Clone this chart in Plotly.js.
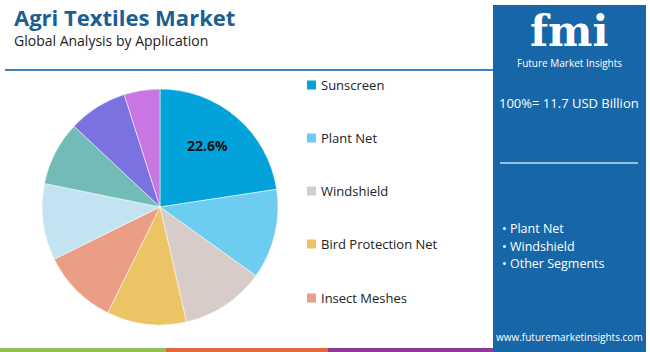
<!DOCTYPE html>
<html>
<head>
<meta charset="utf-8">
<script src="https://cdn.plot.ly/plotly-3.0.1.min.js"></script>
<style>html,body{margin:0;padding:0;background:#fff;}#chart{width:650px;height:352px;}</style>
</head>
<body>
<div id="chart"></div>
<script>
// ---- data ----
const categories = ["Sunscreen", "Plant Net", "Windshield", "Bird Protection Net", "Insect Meshes",
                    "Shade Net", "Mulch Mat", "Anti-Hail Net", "Others"];
const shares = [22.6, 12.3, 11.5, 10.9, 10.4, 10.5, 8.8, 8.1, 4.9];
const sliceColors = ["#02A2DB", "#6CCDF0", "#D7CCC8", "#EBC466", "#EB9E86",
                     "#C3E3F2", "#72BCB7", "#7A72E1", "#C877E2"];
const legendCount = 5;
const labelledSlices = ["Sunscreen"];
const titleText = "Agri Textiles Market";
const subtitleText = "Global Analysis by Application";
const totalText = "100%= 11.7 USD Billion";
const keySegments = ["Plant Net", "Windshield", "Other Segments"];
const siteText = "www.futuremarketinsights.com";

// ---- helpers (pixel -> paper) ----
const W = 650, H = 352;
const px = x => x / W;
const py = y => 1 - y / H;

const shapes = [];
const annotations = [];

// header
annotations.push({xref:'paper', yref:'paper', x:px(12), y:py(17), xanchor:'left', yanchor:'middle',
  text:'<b>' + titleText + '</b>', showarrow:false,
  font:{family:'Open Sans, sans-serif', size:22, color:'#1B5E96'}});
annotations.push({xref:'paper', yref:'paper', x:px(12), y:py(41), xanchor:'left', yanchor:'middle',
  text:subtitleText, showarrow:false,
  font:{family:'Open Sans, sans-serif', size:14, color:'#222'}});
shapes.push({type:'line', xref:'paper', yref:'paper', x0:px(5), x1:px(493), y0:py(70), y1:py(70),
  line:{color:'#3C82BC', width:2}});

// bottom strip
shapes.push({type:'rect', xref:'paper', yref:'paper', x0:0, x1:px(166), y0:0, y1:py(348), fillcolor:'#8DC153', line:{width:0}});
shapes.push({type:'rect', xref:'paper', yref:'paper', x0:px(166), x1:px(328), y0:0, y1:py(348), fillcolor:'#E2683A', line:{width:0}});
shapes.push({type:'rect', xref:'paper', yref:'paper', x0:px(328), x1:px(493), y0:0, y1:py(348), fillcolor:'#8E3A96', line:{width:0}});

// right panel
shapes.push({type:'rect', xref:'paper', yref:'paper', x0:px(493), x1:px(646), y0:0, y1:py(5),
  fillcolor:'#1766A7', line:{width:0}, layer:'below'});
annotations.push({xref:'paper', yref:'paper', x:px(569), y:py(31), xanchor:'center', yanchor:'middle',
  text:'<b>fmi</b>', showarrow:false,
  font:{family:'DejaVu Serif, serif', size:42, color:'#ffffff'}});
annotations.push({xref:'paper', yref:'paper', x:px(569), y:py(63), xanchor:'center', yanchor:'middle',
  text:'Future Market Insights', showarrow:false,
  font:{family:'Open Sans, sans-serif', size:10, color:'#ffffff'}});
annotations.push({xref:'paper', yref:'paper', x:px(569), y:py(103), xanchor:'center', yanchor:'middle',
  text:totalText, showarrow:false,
  font:{family:'Open Sans, sans-serif', size:13, color:'#ffffff'}});
shapes.push({type:'line', xref:'paper', yref:'paper', x0:px(500), x1:px(638), y0:py(163), y1:py(163),
  line:{color:'#C9DCEC', width:1.5}});
keySegments.forEach((s, i) => {
  annotations.push({xref:'paper', yref:'paper', x:px(500), y:py(229 + i*17.3), xanchor:'left', yanchor:'middle',
    text:'• ' + s, showarrow:false,
    font:{family:'Open Sans, sans-serif', size:12.5, color:'#ffffff'}});
});
annotations.push({xref:'paper', yref:'paper', x:px(569), y:py(337), xanchor:'center', yanchor:'middle',
  text:siteText, showarrow:false,
  font:{family:'Open Sans, sans-serif', size:10, color:'#ffffff'}});

// legend (first five categories)
const legendY = [85, 138, 191, 244, 298];
for (let i = 0; i < legendCount; i++) {
  shapes.push({type:'rect', xref:'paper', yref:'paper', x0:px(307), x1:px(316),
    y0:py(legendY[i] + 4.5), y1:py(legendY[i] - 4.5), fillcolor:sliceColors[i], line:{width:0}});
  annotations.push({xref:'paper', yref:'paper', x:px(319), y:py(legendY[i]), xanchor:'left', yanchor:'middle',
    text:categories[i], showarrow:false,
    font:{family:'Open Sans, sans-serif', size:13, color:'#222'}});
}

// pie
const cx = 160, cy = 207, r = 118;
const total = shares.reduce((a, b) => a + b, 0);
// percentage label for the labelled slice, placed at its mid-angle
let cum = 0;
shares.forEach((v, i) => {
  const mid = (cum + v / 2) / total * 2 * Math.PI;
  cum += v;
  if (labelledSlices.includes(categories[i])) {
    const rr = 0.66 * r;
    annotations.push({xref:'paper', yref:'paper', x:px(cx + rr * Math.sin(mid) - 3), y:py(cy - rr * Math.cos(mid) - 2),
      xanchor:'center', yanchor:'middle', showarrow:false,
      text:'<b>' + (v / total * 100).toFixed(1) + '%</b>',
      font:{family:'Open Sans, sans-serif', size:14, color:'#111'}});
  }
});
const trace = {
  type:'pie', labels:categories, values:shares, sort:false, direction:'clockwise', rotation:0,
  marker:{colors:sliceColors, line:{color:'#ffffff', width:0.5}},
  textinfo:'none',
  hoverinfo:'none', showlegend:false,
  domain:{x:[px(cx - r), px(cx + r)], y:[py(cy + r), py(cy - r)]}
};

const layout = {
  width:W, height:H, margin:{l:0, r:0, t:0, b:0},
  paper_bgcolor:'#ffffff', plot_bgcolor:'#ffffff',
  showlegend:false, shapes:shapes, annotations:annotations
};

Plotly.newPlot('chart', [trace], layout, {displayModeBar:false, staticPlot:true});
</script>
</body>
</html>
